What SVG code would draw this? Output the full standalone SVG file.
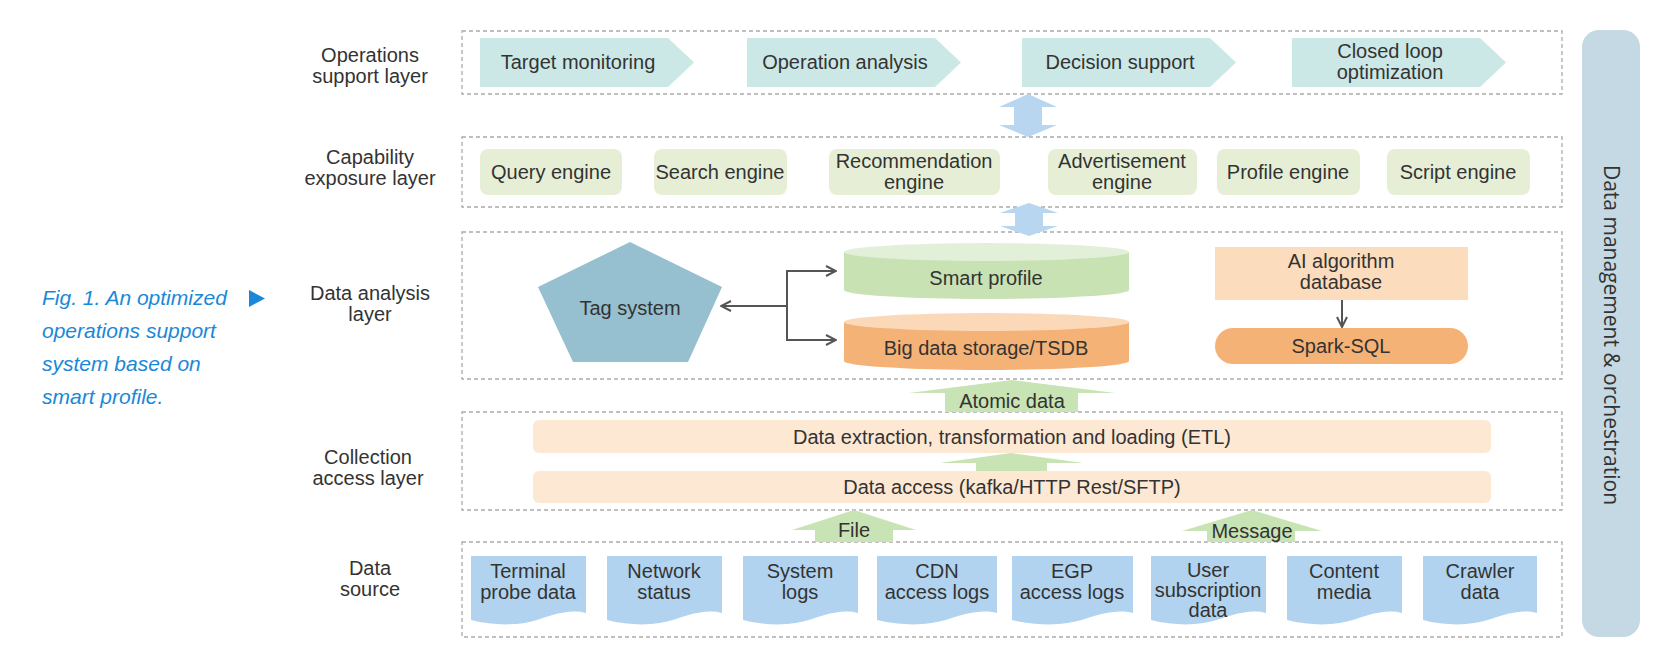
<svg xmlns="http://www.w3.org/2000/svg" width="1673" height="663" viewBox="0 0 1673 663">
<defs>
<style>
text{font-family:"Liberation Sans",Arial,sans-serif;font-size:20px;fill:#333;text-anchor:middle}
.cap{font-style:italic;fill:#1a88d8;text-anchor:start;font-size:21px}
.vert{font-family:"Open Sans","Liberation Sans",sans-serif;font-size:21px}
.layer{fill:none;stroke:#aaa;stroke-width:1.3;stroke-dasharray:4 3}
.chev{fill:#cce8e6}
.eng{fill:#e6efd6}
.doc{fill:#b1d3ef}
.bar{fill:#fde8d3}
.garrow{fill:#c8e3b4}
.barrow{fill:#b8d6f0}
.conn{fill:none;stroke:#555;stroke-width:2}
</style>
<marker id="open" viewBox="0 0 12 12" refX="11" refY="6" markerWidth="12" markerHeight="12" markerUnits="userSpaceOnUse" orient="auto">
<path d="M1,1 L11,6 L1,11" fill="none" stroke="#555" stroke-width="2"/>
</marker>
</defs>
<rect width="1673" height="663" fill="#fff"/>

<g id="caption">
<text class="cap" x="42" y="305">Fig. 1. An optimized</text>
<text class="cap" x="42" y="338">operations support</text>
<text class="cap" x="42" y="371">system based on</text>
<text class="cap" x="42" y="404">smart profile.</text>
<polygon points="249,290 249,307 265,298.5" fill="#1a88d8"/>
</g>

<g id="layer-labels">
<text x="370" y="62">Operations</text><text x="370" y="83">support layer</text>
<text x="370" y="164">Capability</text><text x="370" y="185">exposure layer</text>
<text x="370" y="300">Data analysis</text><text x="370" y="321">layer</text>
<text x="368" y="464">Collection</text><text x="368" y="485">access layer</text>
<text x="370" y="575">Data</text><text x="370" y="596">source</text>
</g>

<g id="layers">
<rect class="layer" x="462" y="31" width="1100" height="63"/>
<rect class="layer" x="462" y="137" width="1100" height="70"/>
<rect class="layer" x="462" y="232" width="1100" height="147"/>
<rect class="layer" x="462" y="412" width="1100" height="98"/>
<rect class="layer" x="462" y="542" width="1100" height="95"/>
</g>

<g id="mgmt">
<rect x="1582" y="30" width="58" height="607" rx="17" fill="#c4d9e3"/>
<text class="vert" transform="translate(1611,335) rotate(90)" y="7">Data management &amp; orchestration</text>
</g>

<g id="ops">
<g id="target-monitoring"><polygon class="chev" points="480,38 668,38 694,62.5 668,87 480,87"/><text x="578" y="69">Target monitoring</text></g>
<g id="operation-analysis"><polygon class="chev" points="747,38 935,38 961,62.5 935,87 747,87"/><text x="845" y="69">Operation analysis</text></g>
<g id="decision-support"><polygon class="chev" points="1022,38 1210,38 1236,62.5 1210,87 1022,87"/><text x="1120" y="69">Decision support</text></g>
<g id="closed-loop"><polygon class="chev" points="1292,38 1480,38 1506,62.5 1480,87 1292,87"/><text x="1390" y="58">Closed loop</text><text x="1390" y="79">optimization</text></g>
</g>

<g id="engines">
<g id="query-engine"><rect class="eng" x="480" y="149" width="142" height="46" rx="8"/><text x="551" y="179">Query engine</text></g>
<g id="search-engine"><rect class="eng" x="654" y="149" width="133" height="46" rx="8"/><text x="720" y="179">Search engine</text></g>
<g id="recommendation-engine"><rect class="eng" x="829" y="149" width="171" height="46" rx="8"/><text x="914" y="168">Recommendation</text><text x="914" y="189">engine</text></g>
<g id="advertisement-engine"><rect class="eng" x="1048" y="149" width="149" height="46" rx="8"/><text x="1122" y="168">Advertisement</text><text x="1122" y="189">engine</text></g>
<g id="profile-engine"><rect class="eng" x="1217" y="149" width="143" height="46" rx="8"/><text x="1288" y="179">Profile engine</text></g>
<g id="script-engine"><rect class="eng" x="1387" y="149" width="143" height="46" rx="8"/><text x="1458" y="179">Script engine</text></g>
</g>

<g id="analysis">
<g id="tag-system"><polygon points="630,242 722,287 688,362 573,362 538,287" fill="#96bfcf"/><text x="630" y="315">Tag system</text></g>
<g id="smart-profile">
<path d="M844,252 V290 A142.5,9 0 0 0 1129,290 V252 Z" fill="#c8e2b3"/>
<ellipse cx="986.5" cy="252" rx="142.5" ry="9" fill="#e2f0d9"/>
<text x="986" y="285">Smart profile</text></g>
<g id="big-data">
<path d="M844,322 V361 A142.5,9 0 0 0 1129,361 V322 Z" fill="#f5b276"/>
<ellipse cx="986.5" cy="322" rx="142.5" ry="9" fill="#fbd9b8"/>
<text x="986" y="355">Big data storage/TSDB</text></g>
<g id="ai-db"><rect x="1215" y="247" width="253" height="53" fill="#fbdcbd"/><text x="1341" y="268">AI algorithm</text><text x="1341" y="289">database</text></g>
<g id="spark-sql"><rect x="1215" y="328" width="253" height="36" rx="18" fill="#f5b276"/><text x="1341" y="353">Spark-SQL</text></g>
</g>

<g id="collection">
<g id="etl"><rect class="bar" x="533" y="420" width="958" height="33" rx="6"/><text x="1012" y="444">Data extraction, transformation and loading (ETL)</text></g>
<g id="data-access"><rect class="bar" x="533" y="471" width="958" height="32" rx="6"/><text x="1012" y="494">Data access (kafka/HTTP Rest/SFTP)</text></g>
</g>

<g id="sources">
<g id="src1"><path class="doc" d="M471,556 H586 V613 C570,609 555,614 540,619 C520,626 495,626 471,620 Z"/><text x="528" y="578">Terminal</text><text x="528" y="599">probe data</text></g>
<g id="src2"><path class="doc" d="M607,556 H722 V613 C706,609 691,614 676,619 C656,626 631,626 607,620 Z"/><text x="664" y="578">Network</text><text x="664" y="599">status</text></g>
<g id="src3"><path class="doc" d="M743,556 H858 V613 C842,609 827,614 812,619 C792,626 767,626 743,620 Z"/><text x="800" y="578">System</text><text x="800" y="599">logs</text></g>
<g id="src4"><path class="doc" d="M877,556 H997 V613 C980,609 964,614 949,619 C928,626 902,626 877,620 Z"/><text x="937" y="578">CDN</text><text x="937" y="599">access logs</text></g>
<g id="src5"><path class="doc" d="M1012,556 H1133 V613 C1116,609 1100,614 1085,619 C1064,626 1038,626 1012,620 Z"/><text x="1072" y="578">EGP</text><text x="1072" y="599">access logs</text></g>
<g id="src6"><path class="doc" d="M1151,556 H1266 V613 C1250,609 1235,614 1220,619 C1200,626 1175,626 1151,620 Z"/><text x="1208" y="577">User</text><text x="1208" y="597">subscription</text><text x="1208" y="617">data</text></g>
<g id="src7"><path class="doc" d="M1287,556 H1402 V613 C1386,609 1371,614 1356,619 C1336,626 1311,626 1287,620 Z"/><text x="1344" y="578">Content</text><text x="1344" y="599">media</text></g>
<g id="src8"><path class="doc" d="M1423,556 H1537 V613 C1521,609 1506,614 1491,619 C1471,626 1446,626 1423,620 Z"/><text x="1480" y="578">Crawler</text><text x="1480" y="599">data</text></g>
</g>

<g id="connectors">
<polygon class="barrow" points="1028,94 1057,107 1042,107 1042,125 1057,125 1028,137 999,125 1014,125 1014,107 999,107"/>
<polygon class="barrow" points="1029,203 1058,213 1043,213 1043,226 1058,226 1029,236 1000,226 1015,226 1015,213 1000,213"/>
<polygon class="garrow" points="1012,380 1115,393 1078,393 1078,412 945,412 945,393 909,393"/>
<text x="1012" y="408">Atomic data</text>
<polygon class="garrow" points="1011,453 1083,463 1047,463 1047,471 976,471 976,463 940,463"/>
<polygon class="garrow" points="854,510 916,530 893,530 893,542 815,542 815,530 792,530"/>
<text x="854" y="537">File</text>
<polygon class="garrow" points="1252,510 1322,531 1295,531 1295,542 1207,542 1207,531 1182,531"/>
<text x="1252" y="538">Message</text>
<path class="conn" d="M787,306 H721" marker-end="url(#open)"/>
<path class="conn" d="M787,271 V340"/>
<path class="conn" d="M786,271 H836" marker-end="url(#open)"/>
<path class="conn" d="M786,340 H836" marker-end="url(#open)"/>
<path class="conn" d="M1342,300 V327" marker-end="url(#open)"/>
</g>
</svg>
